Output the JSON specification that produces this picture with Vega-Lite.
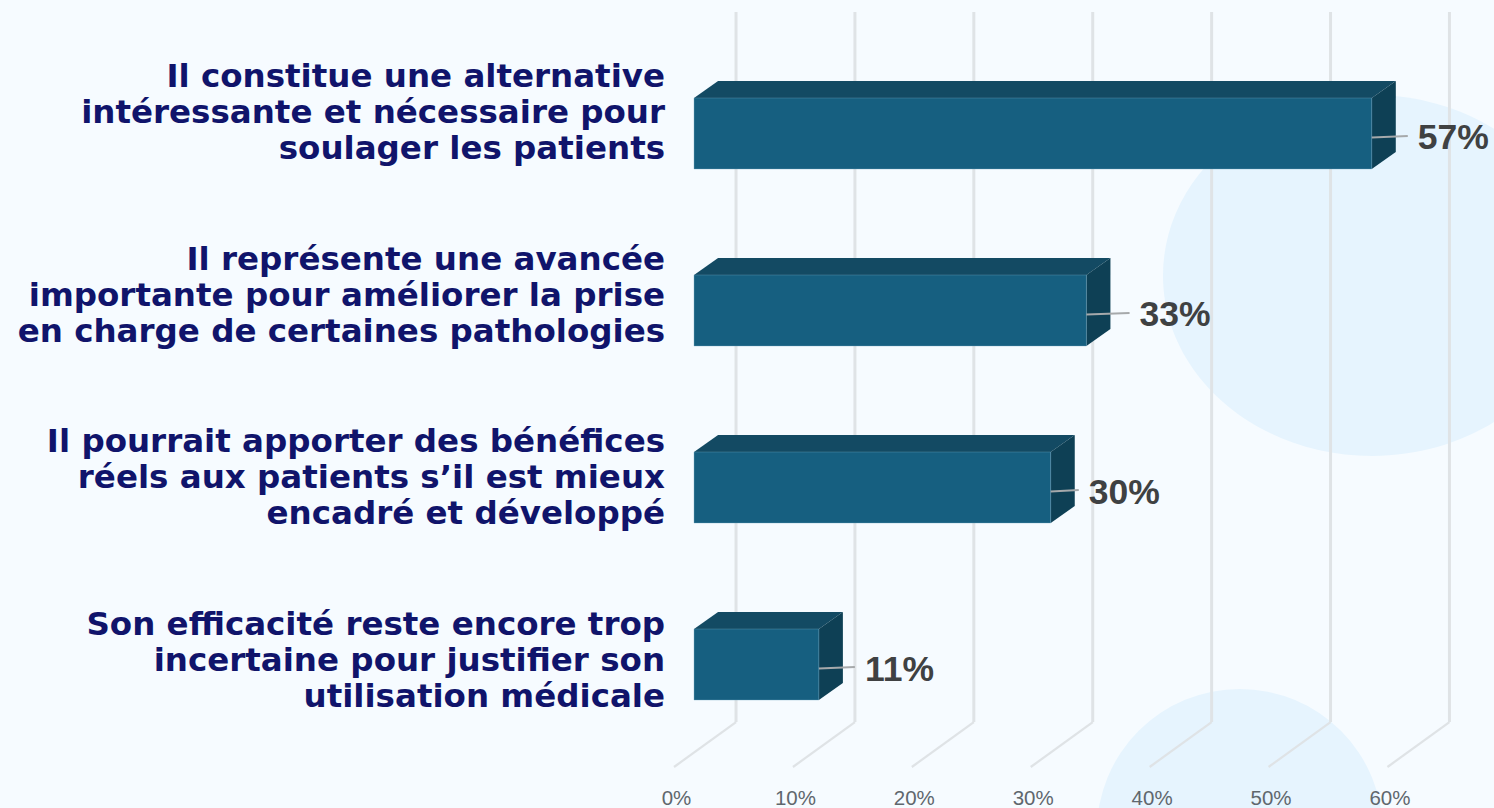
{
"$schema":"https://vega.github.io/schema/vega-lite/v6.json",
"width":1494,"height":780,"autosize":{"type":"none"},"padding":{"left":0,"top":0,"right":0,"bottom":28},
"background":"#f6fbff",
"config":{"view":{"stroke":null},"font":"Liberation Sans","axisX":{"grid":false,"domain":false,"ticks":false,"labelExpr":"datum.value+'%'","labelOffset":-18,"labelFontSize":20.5,"labelColor":"#5f676d","labelFont":"Liberation Sans","labelBaseline":"middle","labelPadding":18,"labelFlush":false,"labelOverlap":false,"title":null}},
"datasets":{
"bars":[
{"label":"Il constitue une alternative\nintéressante et nécessaire pour\nsoulager les patients","rank":0,"value":57,"pct":"57%","base":0},
{"label":"Il représente une avancée\nimportante pour améliorer la prise\nen charge de certaines pathologies","rank":1,"value":33,"pct":"33%","base":0},
{"label":"Il pourrait apporter des bénéfices\nréels aux patients s’il est mieux\nencadré et développé","rank":2,"value":30,"pct":"30%","base":0},
{"label":"Son efficacité reste encore trop\nincertaine pour justifier son\nutilisation médicale","rank":3,"value":10.5,"pct":"11%","base":0}],
"ticks":[{"tick":0,"top":-0.686,"wallFoot":3.325,"floorFront":3.579},{"tick":10,"top":-0.686,"wallFoot":3.325,"floorFront":3.579},{"tick":20,"top":-0.686,"wallFoot":3.325,"floorFront":3.579},{"tick":30,"top":-0.686,"wallFoot":3.325,"floorFront":3.579},{"tick":40,"top":-0.686,"wallFoot":3.325,"floorFront":3.579},{"tick":50,"top":-0.686,"wallFoot":3.325,"floorFront":3.579},{"tick":60,"top":-0.686,"wallFoot":3.325,"floorFront":3.579}],
"blobs":[{"cx":57.02,"cy":0.802,"s":130322},{"cx":45.9,"cy":3.946,"s":81796}]
},
"layer":[
{"data":{"name":"blobs"},"mark":{"type":"point","shape":"M-1.158,0A1.158,1,0,1,0,1.158,0A1.158,1,0,1,0,-1.158,0Z","filled":true,"fill":"#e6f4fe","opacity":1,"strokeWidth":0},
 "transform":[{"filter":"datum.cx>50"}],
 "encoding":{
  "x":{"field":"cx","type":"quantitative","scale":{"domain":[-58.37,67.28],"nice":false,"zero":false},"axis":{"values":[0,10,20,30,40,50,60],"zindex":1}},
  "y":{"field":"cy","type":"quantitative","axis":null,"scale":{"domain":[3.6525,-0.7542],"nice":false,"zero":false}},
  "size":{"field":"s","type":"quantitative","scale":null}}},
{"data":{"name":"blobs"},"mark":{"type":"point","shape":"circle","filled":true,"fill":"#e6f4fe","opacity":1,"strokeWidth":0},
 "transform":[{"filter":"datum.cx<50"}],
 "encoding":{
  "x":{"field":"cx","type":"quantitative","axis":{"values":[0,10,20,30,40,50,60],"zindex":1}},
  "y":{"field":"cy","type":"quantitative","axis":null},
  "size":{"field":"s","type":"quantitative","scale":null}}},
{"data":{"name":"ticks"},"mark":{"type":"rule","color":"#dfe3e6","strokeWidth":3,"xOffset":42,"x2Offset":42},
 "encoding":{
  "x":{"field":"tick","type":"quantitative","axis":{"values":[0,10,20,30,40,50,60],"zindex":1}},
  "x2":{"field":"tick"},
  "y":{"field":"top","type":"quantitative","axis":null},
  "y2":{"field":"wallFoot"}}},
{"data":{"name":"ticks"},"mark":{"type":"rule","color":"#dfe3e6","strokeWidth":2.2,"xOffset":-20,"x2Offset":42},
 "encoding":{
  "x":{"field":"tick","type":"quantitative","axis":{"values":[0,10,20,30,40,50,60],"zindex":1}},
  "x2":{"field":"tick"},
  "y":{"field":"floorFront","type":"quantitative","axis":null},
  "y2":{"field":"wallFoot"}}},
{"data":{"name":"bars"},"transform":[{"calculate":"[0,1]","as":"d"},{"flatten":["d"]},
  {"calculate":"2.02*datum.d","as":"x0"},{"calculate":"datum.value+2.02*datum.d","as":"x1"},{"calculate":"datum.rank-0.2006-0.096*datum.d","as":"yy"}],
 "mark":{"type":"area","orient":"horizontal","color":"#134a63"},
 "encoding":{
  "x":{"field":"x0","type":"quantitative","stack":null,"axis":{"values":[0,10,20,30,40,50,60],"zindex":1}},
  "x2":{"field":"x1"},
  "y":{"field":"yy","type":"quantitative","axis":null},
  "detail":{"field":"rank"}}},
{"data":{"name":"bars"},"transform":[{"calculate":"[0,1]","as":"d"},{"flatten":["d"]},
  {"calculate":"datum.value+2.02*datum.d","as":"x1"},{"calculate":"datum.rank-0.2006-0.096*datum.d","as":"y0"},{"calculate":"datum.rank+0.2006-0.096*datum.d","as":"y1"}],
 "mark":{"type":"area","orient":"vertical","color":"#0e4055"},
 "encoding":{
  "x":{"field":"x1","type":"quantitative","axis":{"values":[0,10,20,30,40,50,60],"zindex":1}},
  "y":{"field":"y0","type":"quantitative","stack":null,"axis":null},
  "y2":{"field":"y1"},
  "detail":{"field":"rank"}}},
{"data":{"name":"bars"},"mark":{"type":"rect","color":"#165f80","stroke":"#6fa6bf","strokeOpacity":0.35,"strokeWidth":1,"yOffset":-35.5,"y2Offset":35.5},
 "encoding":{
  "x":{"field":"base","type":"quantitative","axis":{"values":[0,10,20,30,40,50,60],"zindex":1}},
  "x2":{"field":"value"},
  "y":{"field":"rank","type":"quantitative","axis":null},
  "y2":{"field":"rank"}}},
{"data":{"name":"bars"},"transform":[{"calculate":"datum.value+(datum.rank==1?0.6:datum.rank==2?-0.67:0)","as":"labelX"}],
 "mark":{"type":"rule","color":"#a6a9ab","strokeWidth":2,"yOffset":4,"y2Offset":2.5,"x2Offset":36},
 "encoding":{
  "x":{"field":"value","type":"quantitative","axis":{"values":[0,10,20,30,40,50,60],"zindex":1}},
  "x2":{"field":"labelX"},
  "y":{"field":"rank","type":"quantitative","axis":null},
  "y2":{"field":"rank"}}},
{"data":{"name":"bars"},"transform":[{"calculate":"datum.value+(datum.rank==1?0.6:datum.rank==2?-0.67:0)","as":"labelX"}],
 "mark":{"type":"text","align":"left","baseline":"middle","dx":46,"dy":5,"font":"Liberation Sans","fontWeight":"bold","fontSize":35.5,"color":"#3f4142"},
 "encoding":{
  "x":{"field":"labelX","type":"quantitative","axis":{"values":[0,10,20,30,40,50,60],"zindex":1}},
  "y":{"field":"rank","type":"quantitative","axis":null},
  "text":{"field":"pct"}}},
{"data":{"name":"bars"},"transform":[{"calculate":"datum.rank*1.0322-0.1158","as":"textY"}],"mark":{"type":"text","align":"right","baseline":"middle","dx":-29,"dy":-36,"font":"DejaVu Sans","fontWeight":"bold","fontSize":32.5,"lineBreak":"\n","lineHeight":36,"color":"#10146b"},
 "encoding":{
  "x":{"field":"base","type":"quantitative","axis":{"values":[0,10,20,30,40,50,60],"zindex":1}},
  "y":{"field":"textY","type":"quantitative","axis":null},
  "text":{"field":"label"}}}
]}
